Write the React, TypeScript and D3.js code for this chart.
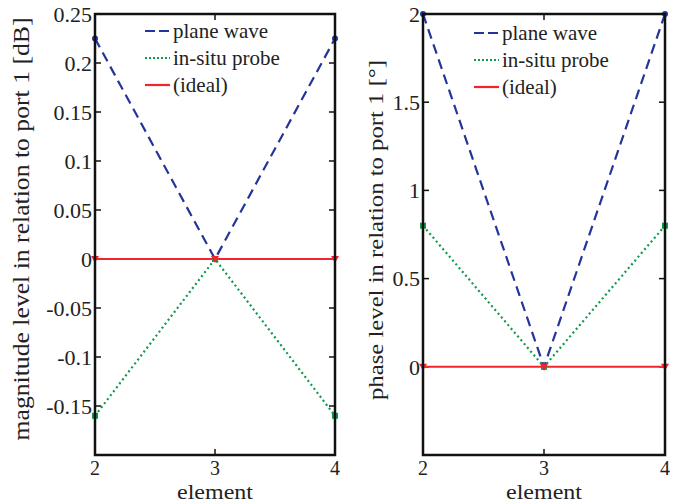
import * as d3 from 'd3';

const elements = [2, 3, 4];
const magPlane = [0.225, 0, 0.225];
const magProbe = [-0.16, 0, -0.16];
const magIdeal = [0, 0, 0];
const magTicks = [-0.15, -0.1, -0.05, 0, 0.05, 0.1, 0.15, 0.2, 0.25];
const phasePlane = [2, 0, 2];
const phaseProbe = [0.8, 0, 0.8];
const phaseIdeal = [0, 0, 0];
const phaseTicks = [0, 0.5, 1, 1.5, 2];
const legendLabels = ['plane wave', 'in-situ probe', '(ideal)'];

const BLUE = '#23359a';
const GREEN = '#0e9a48';
const RED = '#f2242c';
const FONT = "'Liberation Serif', 'Times New Roman', serif";
const txt = { fontFamily: FONT };

type PanelProps = {
    left: number;
    right: number;
    top: number;
    bottom: number;
    domain: [number, number];
    ticks: number[];
    plane: number[];
    probe: number[];
    ideal: number[];
    ylabel: string;
    ylabelX: number;
    ylabelY: number;
    ylabelLen: number;
    ylabelSize: number;
    legendX: number;
    legendY: number;
    legendStep: number;
};

function Panel(p: PanelProps) {
    const x = d3.scaleLinear().domain([2, 4]).range([p.left, p.right]);
    const y = d3.scaleLinear().domain(p.domain).range([p.bottom, p.top]);
    const line = d3.line<number>().x((_, i) => x(elements[i])).y(d => y(d));
    const tk = 6;
    const tri = (cx: number, cy: number) =>
        `M${cx - 4},${cy - 3}L${cx + 4},${cy - 3}L${cx},${cy + 4}Z`;

    return (
        <g>
            {/* ticks */}
            {p.ticks.map(t => (
                <g key={'y' + t}>
                    <line x1={p.left} x2={p.left + tk} y1={y(t)} y2={y(t)} stroke="#111" strokeWidth={1.5} />
                    <line x1={p.right} x2={p.right - tk} y1={y(t)} y2={y(t)} stroke="#111" strokeWidth={1.5} />
                    <text x={p.left - 3} y={y(t)} dy="0.35em" textAnchor="end" fontSize={22} fill="#222" style={txt}>
                        {String(t)}
                    </text>
                </g>
            ))}
            {elements.map(e => (
                <g key={'x' + e}>
                    <line x1={x(e)} x2={x(e)} y1={p.bottom} y2={p.bottom - tk} stroke="#111" strokeWidth={1.5} />
                    <line x1={x(e)} x2={x(e)} y1={p.top} y2={p.top + tk} stroke="#111" strokeWidth={1.5} />
                    <text x={x(e)} y={p.bottom + 20} textAnchor="middle" fontSize={20} fill="#222" style={txt}>
                        {e}
                    </text>
                </g>
            ))}
            <text
                x={(p.left + p.right) / 2}
                y={p.bottom + 44}
                textAnchor="middle"
                fontSize={21}
                fill="#222"
                style={txt}
                textLength={76}
                lengthAdjust="spacingAndGlyphs"
            >
                element
            </text>
            <text
                transform={`translate(${p.ylabelX},${p.ylabelY}) rotate(-90)`}
                textAnchor="middle"
                fontSize={p.ylabelSize}
                fill="#222"
                style={txt}
                textLength={p.ylabelLen}
                lengthAdjust="spacingAndGlyphs"
            >
                {p.ylabel}
            </text>

            {/* series */}
            <path d={line(p.ideal) ?? ''} fill="none" stroke={RED} strokeWidth={2} />
            <path d={line(p.probe) ?? ''} fill="none" stroke={GREEN} strokeWidth={2.2} strokeDasharray="2,3" />
            <path d={line(p.plane) ?? ''} fill="none" stroke={BLUE} strokeWidth={2.2} strokeDasharray="10,6" />
            {p.plane.map((v, i) => (
                <circle key={'pc' + i} cx={x(elements[i])} cy={y(v)} r={3} fill={BLUE} />
            ))}
            {p.probe.map((v, i) => (
                <rect key={'pr' + i} x={x(elements[i]) - 3} y={y(v) - 3} width={6} height={6} fill={GREEN} />
            ))}
            {p.ideal.map((v, i) => (
                <path key={'it' + i} d={tri(x(elements[i]), y(v))} fill={RED} />
            ))}

            {/* box */}
            <rect x={p.left} y={p.top} width={p.right - p.left} height={p.bottom - p.top} fill="none" stroke="#111" strokeWidth={2.5} />

            {/* legend */}
            {legendLabels.map((l, i) => {
                const ly = p.legendY + i * p.legendStep;
                const col = [BLUE, GREEN, RED][i];
                const dash = ['10,4', '2,2', 'none'][i];
                return (
                    <g key={l}>
                        <line x1={p.legendX} x2={p.legendX + 25} y1={ly} y2={ly} stroke={col} strokeWidth={2.2} strokeDasharray={dash} />
                        <text x={p.legendX + 28} y={ly} dy="0.33em" fontSize={21} fill="#222" style={txt}>
                            {l}
                        </text>
                    </g>
                );
            })}
        </g>
    );
}

export default function App() {
    return (
        <svg width={680} height={504} style={{ position: 'absolute', left: 0, top: 0, background: '#fff' }}>
            <Panel
                left={95}
                right={335}
                top={14}
                bottom={455}
                domain={[-0.2, 0.25]}
                ticks={magTicks}
                plane={magPlane}
                probe={magProbe}
                ideal={magIdeal}
                ylabel="magnitude level in relation to port 1 [dB]"
                ylabelX={29}
                ylabelY={229}
                ylabelLen={423}
                ylabelSize={23}
                legendX={145}
                legendY={31}
                legendStep={27}
            />
            <Panel
                left={423}
                right={665}
                top={14}
                bottom={455}
                domain={[-0.5, 2]}
                ticks={phaseTicks}
                plane={phasePlane}
                probe={phaseProbe}
                ideal={phaseIdeal}
                ylabel="phase level in relation to port 1 [°]"
                ylabelX={383}
                ylabelY={230}
                ylabelLen={340}
                ylabelSize={21}
                legendX={474}
                legendY={33}
                legendStep={27}
            />
        </svg>
    );
}
